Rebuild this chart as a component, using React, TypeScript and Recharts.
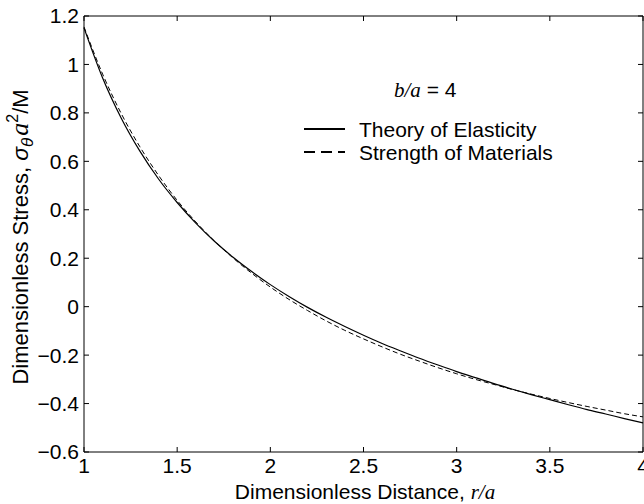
import React from 'react';
import { LineChart, Line, XAxis, YAxis } from 'recharts';

// r/a sample points and the two stress curves (b/a = 4)
const distance = [
    1.0, 1.1, 1.2, 1.3, 1.4, 1.5, 1.6, 1.7, 1.8, 1.9, 2.0, 2.1, 2.2, 2.3, 2.4, 2.5,
    2.6, 2.7, 2.8, 2.9, 3.0, 3.1, 3.2, 3.3, 3.4, 3.5, 3.6, 3.7, 3.8, 3.9, 4.0,
];
const elasticity = [
    1.151, 0.944, 0.778, 0.642, 0.527, 0.43, 0.345, 0.27, 0.204, 0.145, 0.091, 0.042, -0.003,
    -0.044, -0.082, -0.118, -0.152, -0.183, -0.213, -0.241, -0.268, -0.293, -0.318, -0.341,
    -0.363, -0.384, -0.405, -0.425, -0.443, -0.462, -0.48,
];
const strength = [
    1.155, 0.96, 0.797, 0.66, 0.542, 0.439, 0.35, 0.271, 0.201, 0.138, 0.081, 0.03, -0.016,
    -0.059, -0.098, -0.133, -0.166, -0.197, -0.225, -0.252, -0.277, -0.3, -0.321, -0.342,
    -0.361, -0.379, -0.396, -0.412, -0.427, -0.442, -0.455,
];
const xTicks = [1, 1.5, 2, 2.5, 3, 3.5, 4];
const yTicks = [-0.6, -0.4, -0.2, 0, 0.2, 0.4, 0.6, 0.8, 1, 1.2];

const data = distance.map((r, i) => ({ r, elasticity: elasticity[i], strength: strength[i] }));

const FONT = '"Liberation Sans", Arial, Helvetica, sans-serif';
const SERIF = '"Liberation Serif", "Times New Roman", serif';
const FS = 21;

const fmt = (v: number) => (v < 0 ? '\u2212' : '') + String(Math.abs(v));
const blank = () => '';

const tickStyle = { fill: '#000', fontSize: FS, fontFamily: FONT };

export default function App() {
    return (
        <div style={{ position: 'absolute', left: 0, top: 0, width: 644, height: 504, background: '#fff' }}>
            <LineChart width={644} height={504} data={data} margin={{ top: 15, right: 0, bottom: 0, left: 0 }}>
                <XAxis
                    dataKey="r"
                    type="number"
                    domain={[1, 4]}
                    ticks={xTicks}
                    tickFormatter={fmt}
                    height={52}
                    tickSize={-5}
                    tickMargin={11}
                    axisLine={{ stroke: '#000' }}
                    tickLine={{ stroke: '#000' }}
                    tick={tickStyle}
                    interval={0}
                />
                {/* box top edge, ticks only */}
                <XAxis
                    xAxisId="top"
                    orientation="top"
                    dataKey="r"
                    type="number"
                    domain={[1, 4]}
                    ticks={xTicks}
                    tickFormatter={blank}
                    height={1}
                    tickSize={-5}
                    axisLine={{ stroke: '#000' }}
                    tickLine={{ stroke: '#000' }}
                    interval={0}
                />
                <YAxis
                    type="number"
                    domain={[-0.6, 1.2]}
                    ticks={yTicks}
                    tickFormatter={fmt}
                    width={84}
                    tickSize={-5}
                    tickMargin={10}
                    axisLine={{ stroke: '#000' }}
                    tickLine={{ stroke: '#000' }}
                    tick={tickStyle}
                    interval={0}
                />
                {/* box right edge, ticks only */}
                <YAxis
                    yAxisId="right"
                    orientation="right"
                    type="number"
                    domain={[-0.6, 1.2]}
                    ticks={yTicks}
                    tickFormatter={blank}
                    width={1}
                    tickSize={-5}
                    axisLine={{ stroke: '#000' }}
                    tickLine={{ stroke: '#000' }}
                    interval={0}
                />
                <Line
                    dataKey="elasticity"
                    type="monotone"
                    stroke="#000"
                    strokeWidth={1.2}
                    dot={false}
                    isAnimationActive={false}
                />
                <Line
                    dataKey="strength"
                    type="monotone"
                    stroke="#000"
                    strokeWidth={1}
                    strokeDasharray="5 3"
                    dot={false}
                    isAnimationActive={false}
                />
                {/* invisible series so the top/right box axes get drawn */}
                <Line
                    xAxisId="top"
                    yAxisId="right"
                    dataKey="elasticity"
                    stroke="none"
                    dot={false}
                    activeDot={false}
                    isAnimationActive={false}
                />
            </LineChart>
            <svg
                width={644}
                height={504}
                style={{ position: 'absolute', left: 0, top: 0, pointerEvents: 'none' }}
                fontFamily={FONT}
                fontSize={FS}
            >
                {/* annotation */}
                <text x={394} y={97} fill="#000">
                    <tspan fontFamily={SERIF} fontStyle="italic">b/a</tspan>
                    <tspan> = 4</tspan>
                </text>
                {/* legend */}
                <line x1={304} y1={129} x2={345} y2={129} stroke="#000" strokeWidth={2} />
                <text x={359} y={136.5} fill="#000">Theory of Elasticity</text>
                <line x1={304} y1={152} x2={345} y2={152} stroke="#000" strokeWidth={2} strokeDasharray="11 6" />
                <text x={359} y={159.5} fill="#000">Strength of Materials</text>
                {/* axis titles */}
                <text x={365} y={499} textAnchor="middle" fill="#000">
                    Dimensionless Distance,{' '}
                    <tspan fontFamily={SERIF} fontStyle="italic">r/a</tspan>
                </text>
                <text transform="rotate(-90)" x={-237} y={28} textAnchor="middle" fill="#000" fontSize={22}>
                    Dimensionless Stress,{' '}
                    <tspan fontStyle="italic" fontSize={23}>σ</tspan>
                    <tspan fontStyle="italic" fontSize={17} dy={5}>θ</tspan>
                    <tspan fontFamily={SERIF} fontStyle="italic" fontSize={26} dy={-5} dx={2}>a</tspan>
                    <tspan fontSize={16} dy={-10}>2</tspan>
                    <tspan dy={10}>/M</tspan>
                </text>
            </svg>
        </div>
    );
}
